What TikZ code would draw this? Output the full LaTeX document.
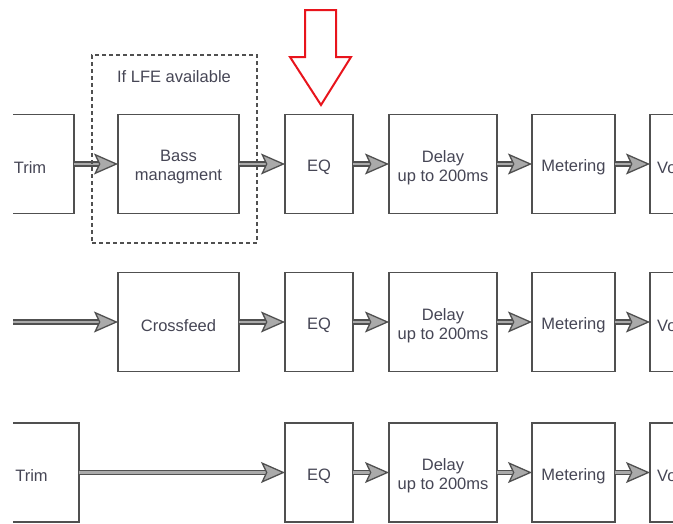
\documentclass[tikz,border=0pt]{standalone}
\usepackage{fontspec}
\setmainfont{Liberation Sans}
\usetikzlibrary{arrows.meta,decorations.markings}
\definecolor{boxline}{RGB}{80,80,80}
\definecolor{txt}{RGB}{70,70,85}
\definecolor{headfill}{RGB}{170,170,170}
\definecolor{redarrow}{RGB}{232,20,28}
\tikzset{
  block/.style={draw=boxline, line width=1.3pt, fill=white, minimum height=99pt,
    inner sep=0pt, outer sep=0pt},
  blocktext/.style={text=txt, align=center, inner sep=0pt, yshift=-3.5pt,
    font=\fontsize{16.5}{19}\selectfont},
  blk/.style={block, label={[blocktext]center:#1}},
  flow/.style={
    postaction={draw=boxline, line width=5.8pt, shorten >=14pt},
    postaction={draw=headfill, line width=2.8pt, shorten >=13pt},
    postaction={decorate, decoration={markings, mark=at position 1 with
      {\arrow{Stealth[length=24pt, width=21pt, inset=5pt, fill=headfill, color=boxline, line width=1.3pt]}}}}
  },
  lfebox/.style={draw=boxline, line width=1.1pt, dash pattern=on 4pt off 3pt,
    inner sep=0pt, outer sep=0pt},
  lfelabel/.style={text=txt, font=\fontsize{16.5}{19}\selectfont, inner sep=0pt}
}
\begin{document}
\begin{tikzpicture}[x=1pt,y=-1pt]
\useasboundingbox (0,0) rectangle (673,523);
\clip (13,0) rectangle (673,523);
% row 1
\node[blk={Trim}, minimum width=88pt] (trimA) at (30,164) {};
\node[blk={Bass\\managment}, minimum width=121pt] (bass) at (178.5,164) {};
\node[blk={EQ}, minimum width=68pt] (eqA) at (319,164) {};
\node[blk={Delay\\up to 200ms}, minimum width=108pt] (delayA) at (443,164) {};
\node[blk={Metering}, minimum width=83pt] (meterA) at (573.5,164) {};
\node[block, anchor=west, minimum width=60pt, label={[blocktext, anchor=west]west:\hspace{7pt}Vo}] (volA) at (650,164) {};
% row 2
\coordinate (inB) at (5,322);
\node[blk={Crossfeed}, minimum width=121pt] (cross) at (178.5,322) {};
\node[blk={EQ}, minimum width=68pt] (eqB) at (319,322) {};
\node[blk={Delay\\up to 200ms}, minimum width=108pt] (delayB) at (443,322) {};
\node[blk={Metering}, minimum width=83pt] (meterB) at (573.5,322) {};
\node[block, anchor=west, minimum width=60pt, label={[blocktext, anchor=west]west:\hspace{7pt}Vo}] (volB) at (650,322) {};
% row 3
\node[blk={Trim}, minimum width=95pt] (trimC) at (31.5,472.5) {};
\node[blk={EQ}, minimum width=68pt] (eqC) at (319,472.5) {};
\node[blk={Delay\\up to 200ms}, minimum width=108pt] (delayC) at (443,472.5) {};
\node[blk={Metering}, minimum width=83pt] (meterC) at (573.5,472.5) {};
\node[block, anchor=west, minimum width=60pt, label={[blocktext, anchor=west]west:\hspace{7pt}Vo}] (volC) at (650,472.5) {};
% connectors
\path[flow] (trimA.east) -- (bass.west);
\path[flow] (bass.east) -- (eqA.west);
\path[flow] (eqA.east) -- (delayA.west);
\path[flow] (delayA.east) -- (meterA.west);
\path[flow] (meterA.east) -- (volA.west);
\path[flow] (inB) -- (cross.west);
\path[flow] (cross.east) -- (eqB.west);
\path[flow] (eqB.east) -- (delayB.west);
\path[flow] (delayB.east) -- (meterB.west);
\path[flow] (meterB.east) -- (volB.west);
\path[flow] (trimC.east) -- (eqC.west);
\path[flow] (eqC.east) -- (delayC.west);
\path[flow] (delayC.east) -- (meterC.west);
\path[flow] (meterC.east) -- (volC.west);
% optional LFE group
\node[lfebox, minimum width=165pt, minimum height=188pt] (lfe) at (174.5,149) {};
\node[lfelabel] (lfetext) at (174,77) {If LFE available};
% red marker arrow
\draw[redarrow, line width=2pt, line join=miter, fill=white]
  (305,10) -- (336,10) -- (336,57) -- (351,57) -- (321,105) -- (290,57) -- (305,57) -- cycle;
\end{tikzpicture}
\end{document}
